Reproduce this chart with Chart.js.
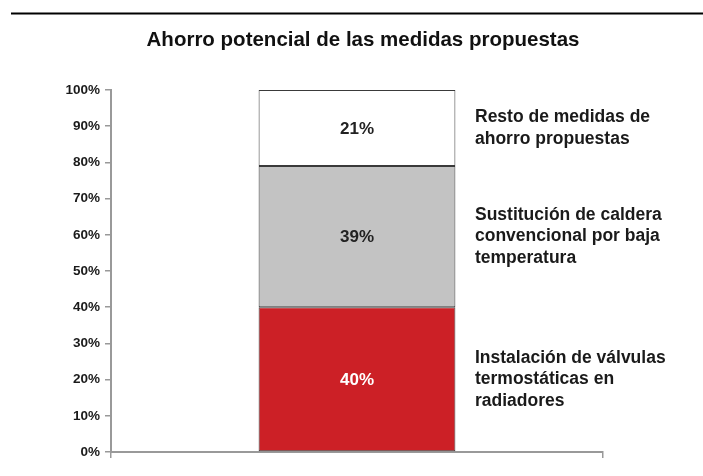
<!DOCTYPE html>
<html>
<head>
<meta charset="utf-8">
<script src="https://cdn.jsdelivr.net/npm/chart.js@4/dist/chart.umd.min.js"></script>
<style>
  html, body { margin: 0; padding: 0; background: #fff; }
  #wrap { width: 703px; height: 476px; }
</style>
</head>
<body>
<div id="wrap"><canvas id="ahorroChart" width="703" height="476"></canvas></div>
<script>
// datos del gráfico
const titulo = 'Ahorro potencial de las medidas propuestas';
const categorias = [''];
const medidas = [
  ['Instalación de válvulas', 'termostáticas en', 'radiadores'],
  ['Sustitución de caldera', 'convencional por baja', 'temperatura'],
  ['Resto de medidas de', 'ahorro propuestas']
];
const valvulas = [40];
const caldera = [39];
const resto = [21];
const colores = ['#cc2026', '#c3c3c3', '#ffffff'];
const colorEtiqueta = ['#ffffff', '#222222', '#222222'];
const fuente = 'Arial, "Liberation Sans", sans-serif';

// linea negra de arriba y titulo
const cabecera = {
  id: 'cabecera',
  afterDraw(chart) {
    const c = chart.ctx;
    c.save();
    c.strokeStyle = '#000';
    c.lineWidth = 2;
    c.beginPath();
    c.moveTo(11, 13.5);
    c.lineTo(703, 13.5);
    c.stroke();
    c.font = 'bold 20.5px ' + fuente;
    c.fillStyle = '#111';
    c.textAlign = 'center';
    c.textBaseline = 'middle';
    c.fillText(titulo, 363, 40);
    c.restore();
  }
};

// porcentajes dentro de la barra y textos a la derecha
const etiquetas = {
  id: 'etiquetas',
  afterDatasetsDraw(chart) {
    const c = chart.ctx;
    c.save();
    chart.data.datasets.forEach((ds, i) => {
      const bar = chart.getDatasetMeta(i).data[0];
      const yMid = (bar.y + bar.base) / 2;
      c.font = 'bold 17px ' + fuente;
      c.fillStyle = colorEtiqueta[i];
      c.textAlign = 'center';
      c.textBaseline = 'middle';
      c.fillText(ds.data[0] + '%', bar.x, yMid + 1);

      const lineas = medidas[i];
      const alto = 21.5;
      c.font = 'bold 17.5px ' + fuente;
      c.fillStyle = '#1a1a1a';
      c.textAlign = 'left';
      const y0 = yMid - (lineas.length - 1) * alto / 2;
      lineas.forEach((t, k) => c.fillText(t, 475, y0 + k * alto));
    });
    c.restore();
  }
};

const ctx = document.getElementById('ahorroChart').getContext('2d');

new Chart(ctx, {
  type: 'bar',
  data: {
    labels: categorias,
    datasets: [
      { label: medidas[0].join(' '), data: valvulas, backgroundColor: colores[0] },
      { label: medidas[1].join(' '), data: caldera, backgroundColor: colores[1] },
      { label: medidas[2].join(' '), data: resto, backgroundColor: colores[2] }
    ].map(d => Object.assign(d, {
      borderColor: '#3a3a3a',
      borderWidth: 1,
      borderSkipped: false,
      barPercentage: 0.4,
      categoryPercentage: 1
    }))
  },
  options: {
    responsive: false,
    animation: false,
    layout: { padding: { left: 0, right: 100, top: 90, bottom: 0 } },
    plugins: {
      legend: { display: false },
      tooltip: { enabled: false },
      title: { display: false }
    },
    scales: {
      x: {
        stacked: true,
        grid: { drawOnChartArea: false, tickLength: 6, color: '#999', lineWidth: 1.5 },
        border: { color: '#999', width: 2 },
        ticks: { display: false },
        afterFit(s) { s.height = 24; }
      },
      y: {
        stacked: true,
        min: 0,
        max: 100,
        grid: { drawOnChartArea: false, tickLength: 6, color: '#999', lineWidth: 1.5 },
        border: { color: '#999', width: 2 },
        ticks: {
          stepSize: 10,
          padding: 5,
          color: '#1a1a1a',
          font: { family: fuente, size: 13.5, weight: 'bold' },
          callback: v => v + '%'
        },
        afterFit(s) { s.width = 111; }
      }
    }
  },
  plugins: [cabecera, etiquetas]
});
</script>
</body>
</html>
